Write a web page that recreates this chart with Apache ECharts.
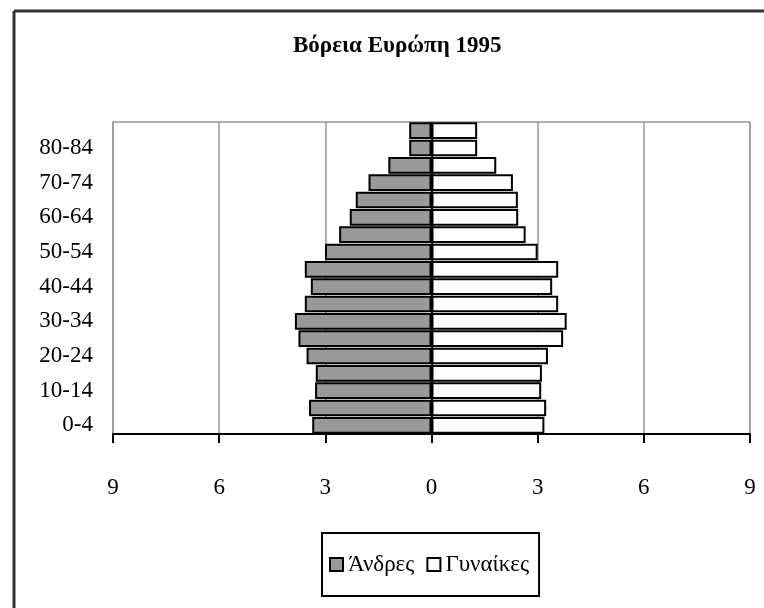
<!DOCTYPE html>
<html>
<head>
<meta charset="utf-8">
<script src="https://cdn.jsdelivr.net/npm/echarts@6/dist/echarts.min.js"></script>
<style>
    html, body {margin: 0; padding: 0; background: #fff;}
    #chart {width: 764px; height: 608px;}
</style>
</head>
<body>
<div id="chart"></div>
<script>
    // age groups, bottom to top
    const ageGroups = ['0-4', '5-9', '10-14', '15-19', '20-24', '25-29', '30-34', '35-39', '40-44',
        '45-49', '50-54', '55-59', '60-64', '65-69', '70-74', '75-79', '80-84', '85+']
    // % of population
    const menValues = [3.37, 3.46, 3.29, 3.27, 3.53, 3.76, 3.86, 3.58, 3.41,
        3.58, 3.01, 2.61, 2.31, 2.14, 1.78, 1.22, 0.63, 0.63]
    const womenValues = [3.19, 3.24, 3.10, 3.12, 3.29, 3.72, 3.82, 3.58, 3.41,
        3.58, 3.00, 2.66, 2.45, 2.44, 2.30, 1.83, 1.29, 1.29]
    const xTicks = [-9, -6, -3, 0, 3, 6, 9]

    const seriesNames = ['Άνδρες', 'Γυναίκες']
    const font = 'Liberation Serif'

    const myChart = echarts.init(document.getElementById('chart'))

    const option = {
        backgroundColor: '#fff',
        animation: false,
        title: {
            text: 'Βόρεια Ευρώπη 1995',
            left: 288,
            top: 30,
            textStyle: {fontFamily: font, fontWeight: 'bold', fontSize: 23, color: '#000'}
        },
        // frame lines (top + left) of the original chart area
        graphic: [
            {type: 'line', shape: {x1: 14, y1: 11, x2: 764, y2: 11}, style: {stroke: '#333', lineWidth: 3}},
            {type: 'line', shape: {x1: 14, y1: 11, x2: 14, y2: 608}, style: {stroke: '#333', lineWidth: 3}}
        ],
        legend: {
            data: seriesNames,
            left: 322,
            top: 533,
            padding: [20, 10, 20, 7],
            itemGap: 12,
            itemWidth: 13,
            itemHeight: 13,
            icon: 'rect',
            borderColor: '#000',
            borderWidth: 2,
            itemStyle: {borderColor: '#000', borderWidth: 2},
            textStyle: {fontFamily: font, fontSize: 23, color: '#000'}
        },
        grid: {
            left: 113,
            right: 14,
            top: 122,
            bottom: 174,
            show: true,
            borderColor: '#999',
            borderWidth: 1.5
        },
        xAxis: {
            type: 'value',
            min: xTicks[0],
            max: xTicks[xTicks.length - 1],
            interval: 3,
            axisLine: {show: true, onZero: false, lineStyle: {color: '#000', width: 2}},
            axisTick: {show: true, length: 9, lineStyle: {color: '#000', width: 2}},
            axisLabel: {
                margin: 42,
                fontFamily: font,
                fontSize: 23,
                color: '#000',
                formatter: v => Math.abs(v)
            },
            splitLine: {show: true, lineStyle: {color: '#999', width: 1.5}}
        },
        yAxis: {
            type: 'category',
            data: ageGroups,
            axisLine: {show: false},
            axisTick: {show: false},
            axisLabel: {
                interval: 1,
                margin: 20,
                fontFamily: font,
                fontSize: 23,
                color: '#000'
            }
        },
        series: [
            {
                name: seriesNames[0],
                type: 'bar',
                data: menValues.map(v => -v),
                barGap: '-100%',
                barCategoryGap: '4%',
                itemStyle: {color: '#999', borderColor: '#000', borderWidth: 2}
            },
            {
                name: seriesNames[1],
                type: 'bar',
                data: womenValues,
                barGap: '-100%',
                barCategoryGap: '4%',
                itemStyle: {color: '#fff', borderColor: '#000', borderWidth: 2},
                markLine: {
                    silent: true,
                    symbol: 'none',
                    label: {show: false},
                    lineStyle: {color: '#000', width: 2, type: 'solid'},
                    data: [{xAxis: 0}]
                }
            }
        ]
    }
    myChart.setOption(option)
</script>
</body>
</html>
